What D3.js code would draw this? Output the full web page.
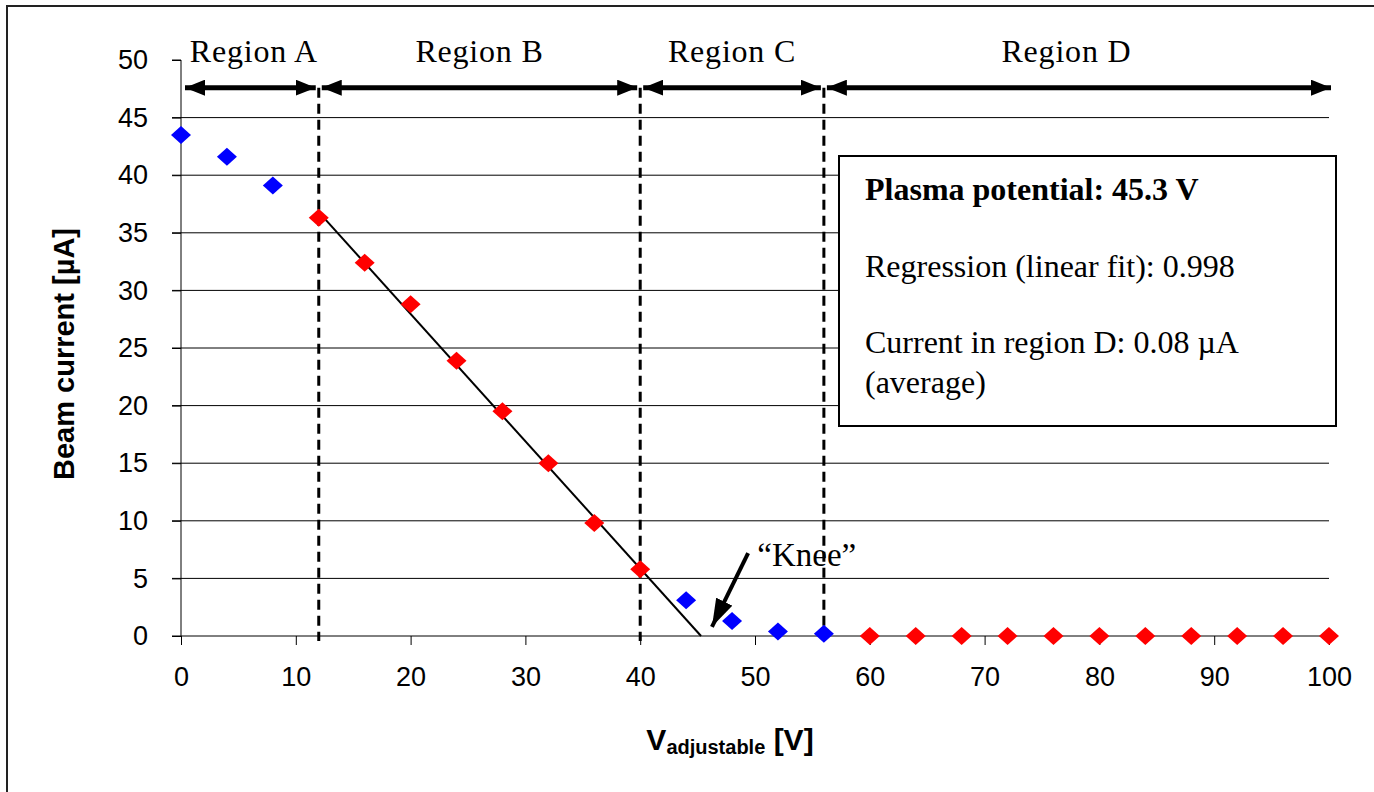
<!DOCTYPE html>
<html>
<head>
<meta charset="utf-8">
<script src="https://cdn.jsdelivr.net/npm/d3@7"></script>
<style>
  html, body { margin: 0; padding: 0; background: #fff; }
  svg { display: block; }
</style>
</head>
<body>
<svg id="chart" width="1374" height="792"></svg>
<script>
// ---------- data ----------
const blueV = [0, 4, 8, 44, 48, 52, 56];
const blueI = [43.5, 41.6, 39.1, 3.1, 1.3, 0.4, 0.2];
const redV = [12, 16, 20, 24, 28, 32, 36, 40, 60, 64, 68, 72, 76, 80, 84, 88, 92, 96, 100];
const redI = [36.3, 32.4, 28.8, 23.9, 19.5, 15.0, 9.8, 5.8, 0, 0, 0, 0, 0, 0, 0, 0, 0, 0, 0];
const fitV = [12, 45.3];
const fitI = [36.8, 0];
const regionBounds = [0, 12, 40, 56, 100];
const regionLabels = ["Region A", "Region B", "Region C", "Region D"];
const xTicks = [0, 10, 20, 30, 40, 50, 60, 70, 80, 90, 100];
const yTicks = [0, 5, 10, 15, 20, 25, 30, 35, 40, 45, 50];
const boxLines = ["Plasma potential: 45.3 V", "Regression (linear fit): 0.998", "Current in region D: 0.08 \u00B5A", "(average)"];
const kneeLabel = "\u201CKnee\u201D";

// ---------- layout ----------
const svg = d3.select("#chart");
const x = d3.scaleLinear().domain([0, 100]).range([181, 1329]);
const y = d3.scaleLinear().domain([0, 50]).range([636, 60]);
const sans = "'Liberation Sans', Arial, sans-serif";
const serif = "'Liberation Serif', 'Times New Roman', serif";

// outer border (only top/left visible in the frame)
svg.append("rect").attr("x", 7).attr("y", 6).attr("width", 1500).attr("height", 900)
  .attr("fill", "none").attr("stroke", "#222").attr("stroke-width", 2);

// gridlines
svg.append("g").selectAll("line").data(yTicks.filter(d => d > 0 && d < 50)).join("line")
  .attr("x1", x(0) - 9).attr("x2", x(100)).attr("y1", d => y(d)).attr("y2", d => y(d))
  .attr("stroke", "#000").attr("stroke-width", 1);

// y axis
const yAxis = d3.axisLeft(y).tickValues(yTicks).tickSize(9).tickPadding(24);
const gy = svg.append("g").attr("transform", `translate(${x(0)},0)`).call(yAxis);
gy.select(".domain").attr("d", `M-9,${y(50)}H0V${y(0)}`).attr("stroke", "#000");
gy.selectAll(".tick line").attr("stroke", "#000");
gy.selectAll(".tick text").attr("font-family", sans).attr("font-size", 27).attr("fill", "#000");

// x axis
const xAxis = d3.axisBottom(x).tickValues(xTicks).tickSize(9).tickPadding(22);
const gx = svg.append("g").attr("transform", `translate(0,${y(0)})`).call(xAxis);
gx.select(".domain").attr("d", `M${x(0) - 9},0H${x(100)}`).attr("stroke", "#000");
gx.selectAll(".tick line").attr("stroke", "#000");
gx.selectAll(".tick text").attr("font-family", sans).attr("font-size", 27).attr("fill", "#000");

// axis titles
svg.append("text").attr("transform", `translate(74,${(y(0) + y(50)) / 2 + 6}) rotate(-90)`)
  .attr("text-anchor", "middle").attr("font-family", sans).attr("font-weight", "bold")
  .attr("font-size", 29).text("Beam current [\u00B5A]");
const xt = svg.append("text").attr("x", 730).attr("y", 750).attr("text-anchor", "middle")
  .attr("font-family", sans).attr("font-weight", "bold").attr("font-size", 30);
xt.append("tspan").text("V");
xt.append("tspan").attr("font-size", 20).attr("dy", 4).text("adjustable");
xt.append("tspan").attr("dy", -4).text(" [V]");

// arrow markers
const defs = svg.append("defs");
defs.append("marker").attr("id", "ah").attr("viewBox", "0 0 20 16").attr("refX", 20).attr("refY", 8)
  .attr("markerWidth", 20).attr("markerHeight", 16).attr("markerUnits", "userSpaceOnUse")
  .attr("orient", "auto-start-reverse")
  .append("path").attr("d", "M0,0L20,8L0,16Z").attr("fill", "#000");
defs.append("marker").attr("id", "ahk").attr("viewBox", "0 0 28 18").attr("refX", 28).attr("refY", 9)
  .attr("markerWidth", 28).attr("markerHeight", 18).attr("markerUnits", "userSpaceOnUse")
  .attr("orient", "auto")
  .append("path").attr("d", "M0,0L28,9L0,18Z").attr("fill", "#000");

// dashed region separators
svg.append("g").selectAll("line").data(regionBounds.slice(1, 4)).join("line")
  .attr("x1", d => x(d)).attr("x2", d => x(d)).attr("y1", y(47.6)).attr("y2", y(0) + 5)
  .attr("stroke", "#000").attr("stroke-width", 3).attr("stroke-dasharray", "10,6");

// region arrows and labels
const regions = regionLabels.map((t, i) => ({ t, a: regionBounds[i], b: regionBounds[i + 1] }));
const labelShift = [4, 0, 0, -10];
svg.append("g").selectAll("line").data(regions).join("line")
  .attr("x1", d => x(d.a) + (d.a === 0 ? 4 : 3)).attr("x2", d => x(d.b) - (d.b === 100 ? -2 : 3))
  .attr("y1", y(47.6)).attr("y2", y(47.6))
  .attr("stroke", "#000").attr("stroke-width", 5)
  .attr("marker-start", "url(#ah)").attr("marker-end", "url(#ah)");
svg.append("g").selectAll("text").data(regions).join("text")
  .attr("x", (d, i) => (x(d.a) + x(d.b)) / 2 + labelShift[i]).attr("y", 62)
  .attr("text-anchor", "middle").attr("font-family", serif).attr("font-size", 32)
  .attr("letter-spacing", 0.8).text(d => d.t);

// linear fit line
svg.append("line").attr("x1", x(fitV[0])).attr("y1", y(fitI[0]))
  .attr("x2", x(fitV[1])).attr("y2", y(fitI[1])).attr("stroke", "#000").attr("stroke-width", 2);

// diamonds
const diamond = (cx, cy) => `M${cx - 10},${cy}L${cx},${cy - 9}L${cx + 10},${cy}L${cx},${cy + 9}Z`;
svg.append("g").selectAll("path").data(blueV.map((v, i) => [v, blueI[i]])).join("path")
  .attr("d", d => diamond(x(d[0]), y(d[1]))).attr("fill", "#0000ff");
svg.append("g").selectAll("path").data(redV.map((v, i) => [v, redI[i]])).join("path")
  .attr("d", d => diamond(x(d[0]), y(d[1]))).attr("fill", "#ff0000");

// knee annotation
svg.append("line").attr("x1", x(49.4)).attr("y1", y(7.2)).attr("x2", x(46.25)).attr("y2", y(0.8))
  .attr("stroke", "#000").attr("stroke-width", 4).attr("marker-end", "url(#ahk)");
svg.append("text").attr("x", x(50.2)).attr("y", y(6.1)).attr("font-family", serif)
  .attr("font-size", 33).text(kneeLabel);

// info box
svg.append("rect").attr("x", 839).attr("y", 156).attr("width", 497).attr("height", 270)
  .attr("fill", "#fff").attr("stroke", "#000").attr("stroke-width", 2);
const baselines = [200, 277, 353, 393];
svg.append("g").selectAll("text").data(boxLines).join("text")
  .attr("x", 865).attr("y", (d, i) => baselines[i]).attr("font-family", serif)
  .attr("font-size", 32).attr("font-weight", (d, i) => i === 0 ? "bold" : "normal").text(d => d);
</script>
</body>
</html>
